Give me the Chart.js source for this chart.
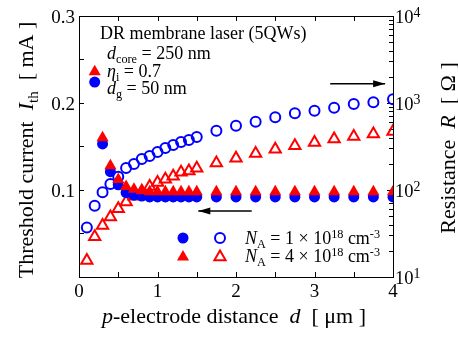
<!DOCTYPE html>
<html><head><meta charset="utf-8">
<script src="https://cdn.jsdelivr.net/npm/chart.js@4.4.1/dist/chart.umd.min.js"></script>
<style>html,body{margin:0;padding:0;background:#fff;}#wrap{width:458px;height:337px;}</style>
</head><body><div id="wrap"><canvas id="c" width="458" height="337"></canvas></div>
<script>
// p-electrode distance d [um]
const distance = [0.1,0.2,0.3,0.4,0.5,0.6,0.7,0.8,0.9,1.0,1.1,1.2,1.3,1.4,1.5,1.75,2.0,2.25,2.5,2.75,3.0,3.25,3.5,3.75,4.0];
// Threshold current [mA], NA = 1e18 (filled circles)
const ithNA1 = [null,0.224,0.153,0.121,0.106,0.097,0.094,0.093,0.092,0.092,0.092,0.092,0.092,0.092,0.092,0.092,0.092,0.092,0.092,0.092,0.092,0.092,0.092,0.092,0.092];
// Threshold current [mA], NA = 4e18 (filled triangles)
const ithNA4 = [null,0.236,0.160,0.128,0.112,0.104,0.101,0.099,0.098,0.098,0.098,0.098,0.098,0.098,0.098,0.098,0.098,0.098,0.098,0.098,0.098,0.098,0.098,0.098,0.098];
// Resistance [Ohm], NA = 1e18 (open circles)
const resNA1 = [37,66,94,117,142,179,199,227,246,274,304,329,356,376,406,481,548,610,685,762,815,883,974,1019,1104];
// Resistance [Ohm], NA = 4e18 (open triangles)
const resNA4 = [15.5,29,39,49,61,73,85,97,110,122,133,144,160,165,178,204,232,263,294,322,352,385,413,439,471];
const xTicks = [0,1,2,3,4];
const leftTicks = ['0.1','0.2','0.3'];
const rightDecades = [1,2,3,4];

const BLUE = '#0000ff', RED = '#ff0000';
const FONT = '"Liberation Serif", "Times New Roman", serif';
Chart.defaults.font.family = FONT;

function fnt(s, size){ return (s.it ? 'italic ' : '') + size + 'px ' + FONT; }
function segSize(s, size){ return s.big ? size * 0.75 : ((s.sub || s.sup) ? size * 0.68 : size); }
function measure(ctx, segs, size){
  let w = 0;
  for (const s of segs){ ctx.font = fnt(s, segSize(s, size)); w += ctx.measureText(s.t).width; }
  return w;
}
function drawRich(ctx, segs, x, y, size, align){
  const w = measure(ctx, segs, size);
  let cx = align === 'center' ? x - w/2 : (align === 'right' ? x - w : x);
  ctx.textAlign = 'left'; ctx.textBaseline = 'alphabetic'; ctx.fillStyle = '#000';
  for (const s of segs){
    const sz = segSize(s, size);
    ctx.font = fnt(s, sz);
    const dy = s.sub ? size*0.22 : (s.sup ? (s.big ? -size*0.3 : -size*0.36) : 0);
    ctx.fillText(s.t, cx, y + dy);
    cx += ctx.measureText(s.t).width;
  }
}

const ptsOf = (ys) => distance.map((d,i) => ({x:d, y:ys[i]}));

const deco = {
  id: 'deco',
  beforeDatasetsDraw(chart){
    const ctx = chart.ctx, a = chart.chartArea;
    const xs = chart.scales.x, yl = chart.scales.y, yr = chart.scales.y2;
    ctx.save();
    ctx.strokeStyle = '#000'; ctx.lineWidth = 1;
    ctx.strokeRect(Math.round(a.left)+0.5, Math.round(a.top)+0.5, Math.round(a.right-a.left), Math.round(a.bottom-a.top));
    ctx.beginPath();
    for (let v = 0.5; v < 4; v += 0.5){
      const px = Math.round(xs.getPixelForValue(v)) + 0.5;
      ctx.moveTo(px, a.bottom); ctx.lineTo(px, a.bottom - 5);
      ctx.moveTo(px, a.top); ctx.lineTo(px, a.top + 5);
    }
    for (let k = 1; k < 6; k++){
      const py = Math.round(yl.getPixelForValue(k*0.05)) + 0.5;
      ctx.moveTo(a.left, py); ctx.lineTo(a.left + 5, py);
    }
    for (let e = 1; e < 4; e++){
      for (let m = 1; m <= 9; m++){
        if (e === 1 && m === 1) continue;
        const py = Math.round(yr.getPixelForValue(m*Math.pow(10,e))) + 0.5;
        const len = m === 1 ? 6 : 4;
        ctx.moveTo(a.right, py); ctx.lineTo(a.right - len, py);
      }
    }
    ctx.stroke();
    ctx.restore();
  },
  afterDraw(chart){
    const ctx = chart.ctx, a = chart.chartArea;
    const xs = chart.scales.x, yl = chart.scales.y, yr = chart.scales.y2;
    ctx.save();
    // x tick labels
    for (const v of xTicks){
      drawRich(ctx, [{t:String(v)}], xs.getPixelForValue(v), 297, 19, 'center');
    }
    // left tick labels
    for (const t of leftTicks){
      drawRich(ctx, [{t:t}], a.left - 4, yl.getPixelForValue(parseFloat(t)) + 6.5, 19, 'right');
    }
    // right axis labels 10^n
    for (const e of rightDecades){
      const py = yr.getPixelForValue(Math.pow(10,e));
      drawRich(ctx, [{t:'10'},{t:String(e), sup:true, big:true}], a.right + 2, py + 6.5, 18.5, 'left');
    }
    // axis titles
    ctx.save();
    ctx.translate(26, 150); ctx.rotate(-Math.PI/2);
    drawRich(ctx, [{t:'Threshold current  '},{t:'I', it:true},{t:'th', sub:true},{t:'  [ mA ]'}], 0, 7, 22, 'center');
    ctx.restore();
    ctx.save();
    ctx.translate(448, 148); ctx.rotate(-Math.PI/2);
    drawRich(ctx, [{t:'Resistance  '},{t:'R', it:true},{t:'  [ Ω ]'}], 0, 7, 22, 'center');
    ctx.restore();
    drawRich(ctx, [{t:'p', it:true},{t:'-electrode distance  '},{t:'d', it:true},{t:'  [ μm ]'}], 234, 323, 22, 'center');
    // annotations
    drawRich(ctx, [{t:'DR membrane laser (5QWs)'}], 100, 39, 18, 'left');
    drawRich(ctx, [{t:'d', it:true},{t:'core', sub:true},{t:' = 250 nm'}], 107, 59, 18, 'left');
    drawRich(ctx, [{t:'η', it:true},{t:'i', sub:true},{t:' = 0.7'}], 107, 77, 18, 'left');
    drawRich(ctx, [{t:'d', it:true},{t:'g', sub:true},{t:' = 50 nm'}], 107, 94, 18, 'left');
    // legend
    const P = Chart.helpers.drawPoint;
    ctx.lineWidth = 2;
    ctx.fillStyle = BLUE; ctx.strokeStyle = BLUE;
    P(ctx, {pointStyle:'circle', radius:5.5, borderWidth:0}, 183, 238);
    ctx.fillStyle = 'rgba(0,0,0,0)';
    P(ctx, {pointStyle:'circle', radius:5, borderWidth:2}, 220, 238);
    ctx.fillStyle = RED; ctx.strokeStyle = RED;
    P(ctx, {pointStyle:'triangle', radius:7, borderWidth:0}, 183, 257);
    ctx.fillStyle = 'rgba(0,0,0,0)';
    P(ctx, {pointStyle:'triangle', radius:6.5, borderWidth:2}, 220, 257);
    drawRich(ctx, [{t:'N', it:true},{t:'A', sub:true},{t:' = 1 × 10'},{t:'18', sup:true},{t:' cm'},{t:'-3', sup:true}], 245, 244, 18, 'left');
    drawRich(ctx, [{t:'N', it:true},{t:'A', sub:true},{t:' = 4 × 10'},{t:'18', sup:true},{t:' cm'},{t:'-3', sup:true}], 245, 262, 18, 'left');
    // arrows
    function arrow(x1, x2, y){
      ctx.strokeStyle = '#000'; ctx.fillStyle = '#000'; ctx.lineWidth = 1.5;
      ctx.beginPath(); ctx.moveTo(x1, y); ctx.lineTo(x2, y); ctx.stroke();
      const dir = Math.sign(x2 - x1);
      ctx.beginPath(); ctx.moveTo(x2, y); ctx.lineTo(x2 - dir*12, y - 3.5); ctx.lineTo(x2 - dir*12, y + 3.5); ctx.closePath(); ctx.fill();
    }
    arrow(xs.getPixelForValue(3.2), xs.getPixelForValue(3.9), yl.getPixelForValue(0.222));
    arrow(xs.getPixelForValue(2.2), xs.getPixelForValue(1.52), yl.getPixelForValue(0.076));
    ctx.restore();
  }
};

new Chart(document.getElementById('c'), {
  type: 'scatter',
  data: { datasets: [
    { label:'Ith NA=4e18', data: ptsOf(ithNA4), yAxisID:'y', pointStyle:'triangle', pointRadius:7, backgroundColor:RED, borderColor:RED, borderWidth:0, order:0 },
    { label:'Ith NA=1e18', data: ptsOf(ithNA1), yAxisID:'y', pointStyle:'circle', pointRadius:5.5, backgroundColor:BLUE, borderColor:BLUE, borderWidth:0, order:1 },
    { label:'R NA=1e18', data: ptsOf(resNA1), yAxisID:'y2', pointStyle:'circle', pointRadius:5, backgroundColor:'rgba(255,255,255,0)', borderColor:BLUE, borderWidth:2, order:2 },
    { label:'R NA=4e18', data: ptsOf(resNA4), yAxisID:'y2', pointStyle:'triangle', pointRadius:6.5, backgroundColor:'rgba(255,255,255,0)', borderColor:RED, borderWidth:2, order:3 }
  ]},
  options: {
    responsive:false, animation:false, devicePixelRatio:1,
    layout:{ padding:{ top:16, left:0, right:0, bottom:0 } },
    plugins:{ legend:{display:false}, tooltip:{enabled:false} },
    scales:{
      x:{ type:'linear', min:0, max:4,
          afterFit: (s) => { s.height = 60; },
          grid:{ display:false }, border:{ display:false },
          ticks:{ display:false } },
      y:{ type:'linear', position:'left', min:0, max:0.3,
          afterFit: (s) => { s.width = 79; },
          grid:{ display:false }, border:{ display:false },
          ticks:{ display:false } },
      y2:{ type:'logarithmic', position:'right', min:10, max:10000,
          afterFit: (s) => { s.width = 65; },
          grid:{ display:false }, border:{ display:false },
          ticks:{ display:false } }
    }
  },
  plugins:[deco]
});
</script>
</body></html>
